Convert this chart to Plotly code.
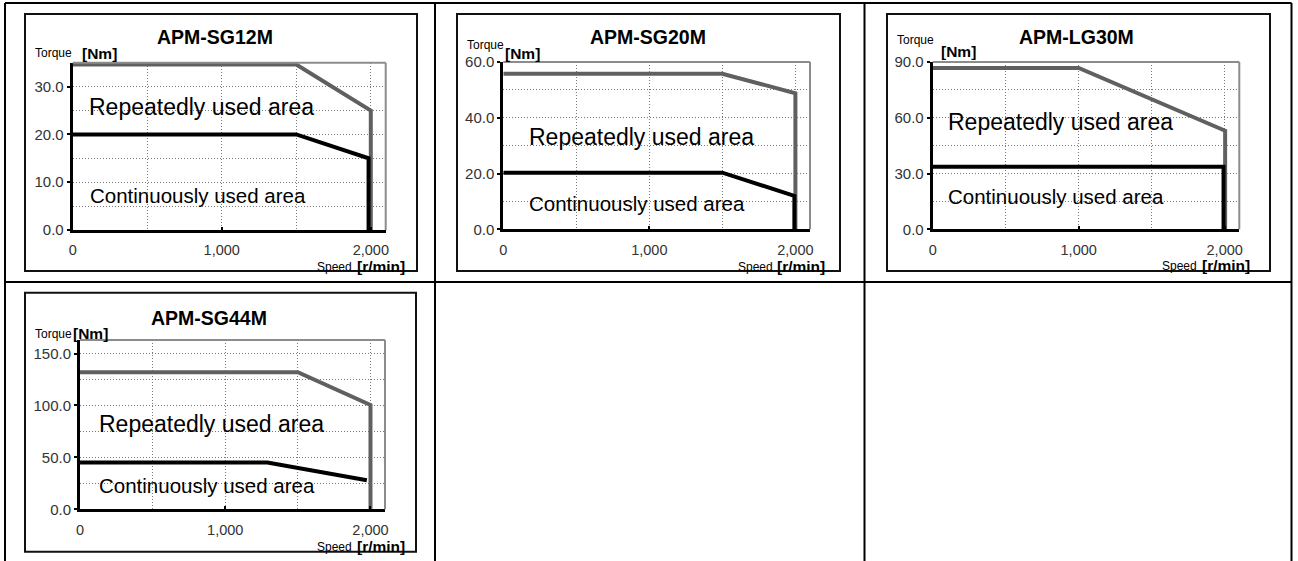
import plotly.graph_objects as go

W, H = 1298, 561

# ---------------- data ----------------
titles = ["APM-SG12M", "APM-SG20M", "APM-LG30M", "APM-SG44M"]

sg12_rep_speed = [0, 1500, 2000, 2000]
sg12_rep_torque = [34.6, 34.6, 25.0, 0.0]
sg12_cont_speed = [0, 1500, 1985, 1985]
sg12_cont_torque = [20.0, 20.0, 15.0, 0.0]

sg20_rep_speed = [0, 1500, 2000, 2000]
sg20_rep_torque = [55.8, 55.8, 48.8, 0.0]
sg20_cont_speed = [0, 1500, 1993, 1993]
sg20_cont_torque = [20.3, 20.3, 12.0, 0.0]

lg30_rep_speed = [0, 1000, 2003, 2003]
lg30_rep_torque = [86.8, 86.8, 53.0, 0.0]
lg30_cont_speed = [0, 1000, 1992, 1992]
lg30_cont_torque = [33.7, 33.7, 33.7, 0.0]

sg44_rep_speed = [0, 1500, 2000, 2000]
sg44_rep_torque = [132.0, 132.0, 100.5, 0.0]
sg44_cont_speed = [0, 1290, 1975]
sg44_cont_torque = [45.0, 45.0, 28.0]

rep_speeds = [sg12_rep_speed, sg20_rep_speed, lg30_rep_speed, sg44_rep_speed]
rep_torques = [sg12_rep_torque, sg20_rep_torque, lg30_rep_torque, sg44_rep_torque]
cont_speeds = [sg12_cont_speed, sg20_cont_speed, lg30_cont_speed, sg44_cont_speed]
cont_torques = [sg12_cont_torque, sg20_cont_torque, lg30_cont_torque, sg44_cont_torque]

y_max = [35, 60, 90, 163]
y_step = [10, 20, 30, 50]
x_max = 2100
x_tick_vals = [0, 1000, 2000]
x_tick_text = ["0", "1,000", "2,000"]

rep_label = "Repeatedly used area"
cont_label = "Continuously used area"

# ---------------- layout geometry (pixels) ----------------
plot_boxes = [  # x0, x1, ytop, ybottom
    (72.7, 385.7, 62.7, 230.0),
    (503.3, 810.0, 62.0, 229.3),
    (932.7, 1239.3, 62.0, 229.3),
    (80.0, 385.0, 340.0, 509.3),
]
frames = [
    (25, 417, 14, 271),
    (457, 840, 14, 271),
    (887, 1270, 14, 271),
    (25, 416, 292.7, 551.7),
]
title_pos = [(215, 36.5), (647.5, 36.5), (1076.7, 36.5), (209, 318)]
rep_pos = [(87.3, 106.7), (527.3, 136.7), (946, 121.7), (96.7, 424)]
cont_pos = [(88.3, 195), (527.3, 203.3), (946, 196.7), (96.7, 485)]
torque_pos = [(33, 53.5), (465, 45), (895, 40), (33, 333.5)]
nm_pos = [(80, 53.5), (503, 53.5), (939, 51.7), (71, 333)]
speed_pos = [(315, 266.5), (736, 266.5), (1160, 265.5), (315, 546.5)]
rmin_pos = [(355, 266.5), (775, 266.5), (1200, 265.5), (355, 546.5)]


def px(x):
    return x / W


def py(y):
    return 1 - y / H


FONT = "Liberation Sans, Arial, sans-serif"
GRID = "#7a7a7a"
GRID_DASH = "1px,2px"
GRAY_LINE = "#606060"

fig = go.Figure()
shapes = []
annotations = []
layout = {}

for i in range(4):
    n = "" if i == 0 else str(i + 1)
    xa, ya = "x" + n, "y" + n
    x0, x1, yt, yb = plot_boxes[i]

    fig.add_trace(go.Scatter(
        x=rep_speeds[i], y=rep_torques[i], xaxis=xa, yaxis=ya, mode="lines",
        line=dict(color=GRAY_LINE, width=4), hoverinfo="skip", showlegend=False))
    fig.add_trace(go.Scatter(
        x=cont_speeds[i], y=cont_torques[i], xaxis=xa, yaxis=ya, mode="lines",
        line=dict(color="#000000", width=4), hoverinfo="skip", showlegend=False))

    layout["xaxis" + n] = dict(
        domain=[px(x0), px(x1)], anchor=ya, range=[0, x_max],
        tickmode="array", tickvals=x_tick_vals, ticktext=x_tick_text,
        showline=True, linecolor="#000000", linewidth=3,
        ticks="inside", ticklen=3, tickwidth=2, tickcolor="#000000",
        showgrid=True, gridcolor=GRID, griddash=GRID_DASH, gridwidth=1,
        minor=dict(tickmode="linear", tick0=0, dtick=500, showgrid=True,
                   gridcolor=GRID, griddash=GRID_DASH, gridwidth=1, ticks=""),
        tickfont=dict(family=FONT, size=14.5, color="#333333"),
        ticklabelstandoff=5, zeroline=False, fixedrange=True, automargin=False,
    )
    layout["yaxis" + n] = dict(
        domain=[py(yb), py(yt)], anchor=xa, range=[0, y_max[i]],
        tick0=0, dtick=y_step[i], tickformat=".1f",
        showline=True, linecolor="#000000", linewidth=3,
        ticks="outside", ticklen=3, tickwidth=2, tickcolor="#000000",
        showgrid=True, gridcolor=GRID, griddash=GRID_DASH, gridwidth=1,
        minor=dict(tick0=0, dtick=y_step[i] / 2, showgrid=True,
                   gridcolor=GRID, griddash=GRID_DASH, gridwidth=1, ticks=""),
        tickfont=dict(family=FONT, size=15, color="#333333"),
        ticklabelstandoff=0, zeroline=False, fixedrange=True, automargin=False,
    )

    # gray top/right border of plot area
    shapes.append(dict(type="line", xref=xa + " domain", yref=ya + " domain",
                       x0=0, x1=1, y0=1, y1=1, line=dict(color="#8c8c8c", width=2)))
    shapes.append(dict(type="line", xref=xa + " domain", yref=ya + " domain",
                       x0=1, x1=1, y0=0, y1=1, line=dict(color="#8c8c8c", width=2)))

    # chart frame
    fx0, fx1, fy0, fy1 = frames[i]
    shapes.append(dict(type="rect", xref="paper", yref="paper",
                       x0=px(fx0), x1=px(fx1), y0=py(fy1), y1=py(fy0),
                       line=dict(color="#111111", width=2)))

    annotations.append(dict(text="<b>" + titles[i] + "</b>", x=px(title_pos[i][0]),
                            y=py(title_pos[i][1]), xref="paper", yref="paper",
                            xanchor="center", yanchor="middle", showarrow=False,
                            font=dict(family=FONT, size=19.5, color="#000000")))
    annotations.append(dict(text=rep_label, x=px(rep_pos[i][0]), y=py(rep_pos[i][1]),
                            xref="paper", yref="paper", xanchor="left", yanchor="middle",
                            showarrow=False, font=dict(family=FONT, size=23, color="#000000")))
    annotations.append(dict(text=cont_label, x=px(cont_pos[i][0]), y=py(cont_pos[i][1]),
                            xref="paper", yref="paper", xanchor="left", yanchor="middle",
                            showarrow=False, font=dict(family=FONT, size=20.5, color="#000000")))
    annotations.append(dict(text="Torque", x=px(torque_pos[i][0]), y=py(torque_pos[i][1]),
                            xref="paper", yref="paper", xanchor="left", yanchor="middle",
                            showarrow=False, font=dict(family=FONT, size=12, color="#000000")))
    annotations.append(dict(text="<b>[Nm]</b>", x=px(nm_pos[i][0]), y=py(nm_pos[i][1]),
                            xref="paper", yref="paper", xanchor="left", yanchor="middle",
                            showarrow=False, font=dict(family=FONT, size=15.5, color="#000000")))
    annotations.append(dict(text="Speed", x=px(speed_pos[i][0]), y=py(speed_pos[i][1]),
                            xref="paper", yref="paper", xanchor="left", yanchor="middle",
                            showarrow=False, font=dict(family=FONT, size=12, color="#000000")))
    annotations.append(dict(text="<b>[r/min]</b>", x=px(rmin_pos[i][0]), y=py(rmin_pos[i][1]),
                            xref="paper", yref="paper", xanchor="left", yanchor="middle",
                            showarrow=False, font=dict(family=FONT, size=15.5, color="#000000")))

# table grid lines
for gx in [5, 435, 864.5, 1291.5]:
    shapes.append(dict(type="line", xref="paper", yref="paper", x0=px(gx), x1=px(gx),
                       y0=py(3), y1=py(561), line=dict(color="#000000", width=2)))
for gy in [3, 282]:
    shapes.append(dict(type="line", xref="paper", yref="paper", x0=px(5), x1=px(1291.5),
                       y0=py(gy), y1=py(gy), line=dict(color="#000000", width=2)))

fig.update_layout(
    width=W, height=H, margin=dict(l=0, r=0, t=0, b=0, pad=0, autoexpand=False),
    paper_bgcolor="#ffffff", plot_bgcolor="#ffffff",
    shapes=shapes, annotations=annotations, showlegend=False,
    font=dict(family=FONT), **layout,
)

fig.write_html("out.html", config={"displayModeBar": False},
               post_script="document.body.style.margin='0';document.body.style.overflow='hidden';")
